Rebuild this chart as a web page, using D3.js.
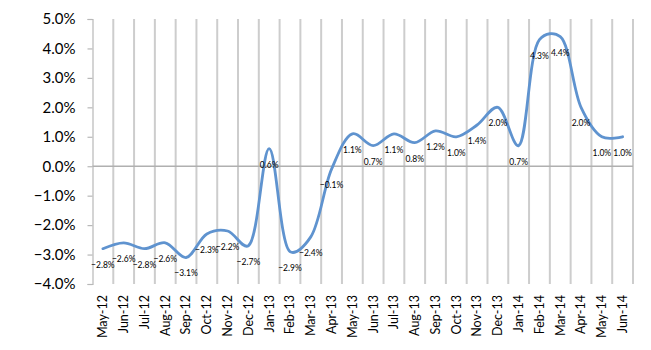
<!DOCTYPE html>
<html>
<head>
<meta charset="utf-8">
<script src="https://cdn.jsdelivr.net/npm/d3@7"></script>
<style>
  html, body { margin: 0; padding: 0; background: #fff; }
  svg { display: block; }
  text { font-family: Lato, "Open Sans", sans-serif; }
</style>
</head>
<body>
<svg id="chart" width="651" height="350"></svg>
<script>
const months = ["May-12","Jun-12","Jul-12","Aug-12","Sep-12","Oct-12","Nov-12","Dec-12",
  "Jan-13","Feb-13","Mar-13","Apr-13","May-13","Jun-13","Jul-13","Aug-13","Sep-13","Oct-13",
  "Nov-13","Dec-13","Jan-14","Feb-14","Mar-14","Apr-14","May-14","Jun-14"];
const values = [-2.8,-2.6,-2.8,-2.6,-3.1,-2.3,-2.2,-2.7,0.6,-2.9,-2.4,-0.1,1.1,0.7,1.1,0.8,
  1.2,1.0,1.4,2.0,0.7,4.3,4.4,2.0,1.0,1.0];
const yTicks = [-4,-3,-2,-1,0,1,2,3,4,5];

(function () {
const svg = d3.select("#chart");
const pLeft = 92.5, pRight = 633, pTop = 19, pBottom = 284;

const x = d3.scaleBand().domain(months).range([pLeft, pRight]).padding(0);
const y = d3.scaleLinear().domain([-4, 5]).range([pBottom, pTop]);

// vertical gridlines at category boundaries
const bounds = months.map((m) => x(m) + x.bandwidth());
svg.append("g").selectAll("line").data(bounds).join("line")
  .attr("x1", d => d).attr("x2", d => d)
  .attr("y1", pTop).attr("y2", pBottom)
  .attr("stroke", "#cdcdcd").attr("stroke-width", 2);

// y axis
const yAxis = svg.append("g").attr("transform", `translate(${pLeft},0)`)
  .call(d3.axisLeft(y).tickValues(yTicks).tickSize(5).tickPadding(12)
    .tickFormat(d => d3.format(".1f")(d) + "%"));
yAxis.select(".domain").attr("stroke", "#b8b8b8").attr("stroke-width", 1.2);
yAxis.selectAll(".tick line").attr("stroke", "#b8b8b8").attr("stroke-width", 1.2);
yAxis.selectAll(".tick text").attr("font-size", 15).attr("fill", "#000")
  .style("font-family", "Lato, sans-serif");

// zero line
svg.append("line")
  .attr("x1", pLeft).attr("x2", pRight)
  .attr("y1", y(0)).attr("y2", y(0))
  .attr("stroke", "#b0b0b0").attr("stroke-width", 1.5);

// x axis labels (bottom)
const xAxis = svg.append("g").attr("transform", `translate(0,${pBottom})`)
  .call(d3.axisBottom(x).tickSize(0).tickPadding(0));
xAxis.select(".domain").remove();
xAxis.selectAll(".tick text")
  .attr("font-size", 12.5).attr("fill", "#000")
  .style("font-family", "Lato, sans-serif")
  .attr("text-anchor", "end")
  .attr("transform", "translate(0,11) rotate(-90)")
  .attr("x", 0).attr("y", 0).attr("dy", "0.35em");

// line
const cx = (d, i) => x(months[i]) + x.bandwidth() / 2;
const line = d3.line().x((d, i) => cx(d, i)).y(d => y(d))
  .curve(d3.curveCatmullRom.alpha(0.4));
svg.append("path").datum(values)
  .attr("d", line)
  .attr("fill", "none")
  .attr("stroke", "#5f93cf")
  .attr("stroke-width", 2.8)
  .attr("stroke-linecap", "round");

// data labels
svg.append("g").selectAll("text").data(values).join("text")
  .attr("x", (d, i) => cx(d, i))
  .attr("y", d => y(d) + 16)
  .attr("dy", "0.35em")
  .attr("text-anchor", "middle")
  .attr("font-size", 8.5)
  .attr("fill", "#000")
  .text(d => d3.format(".1f")(d) + "%");
})();
</script>
</body>
</html>
